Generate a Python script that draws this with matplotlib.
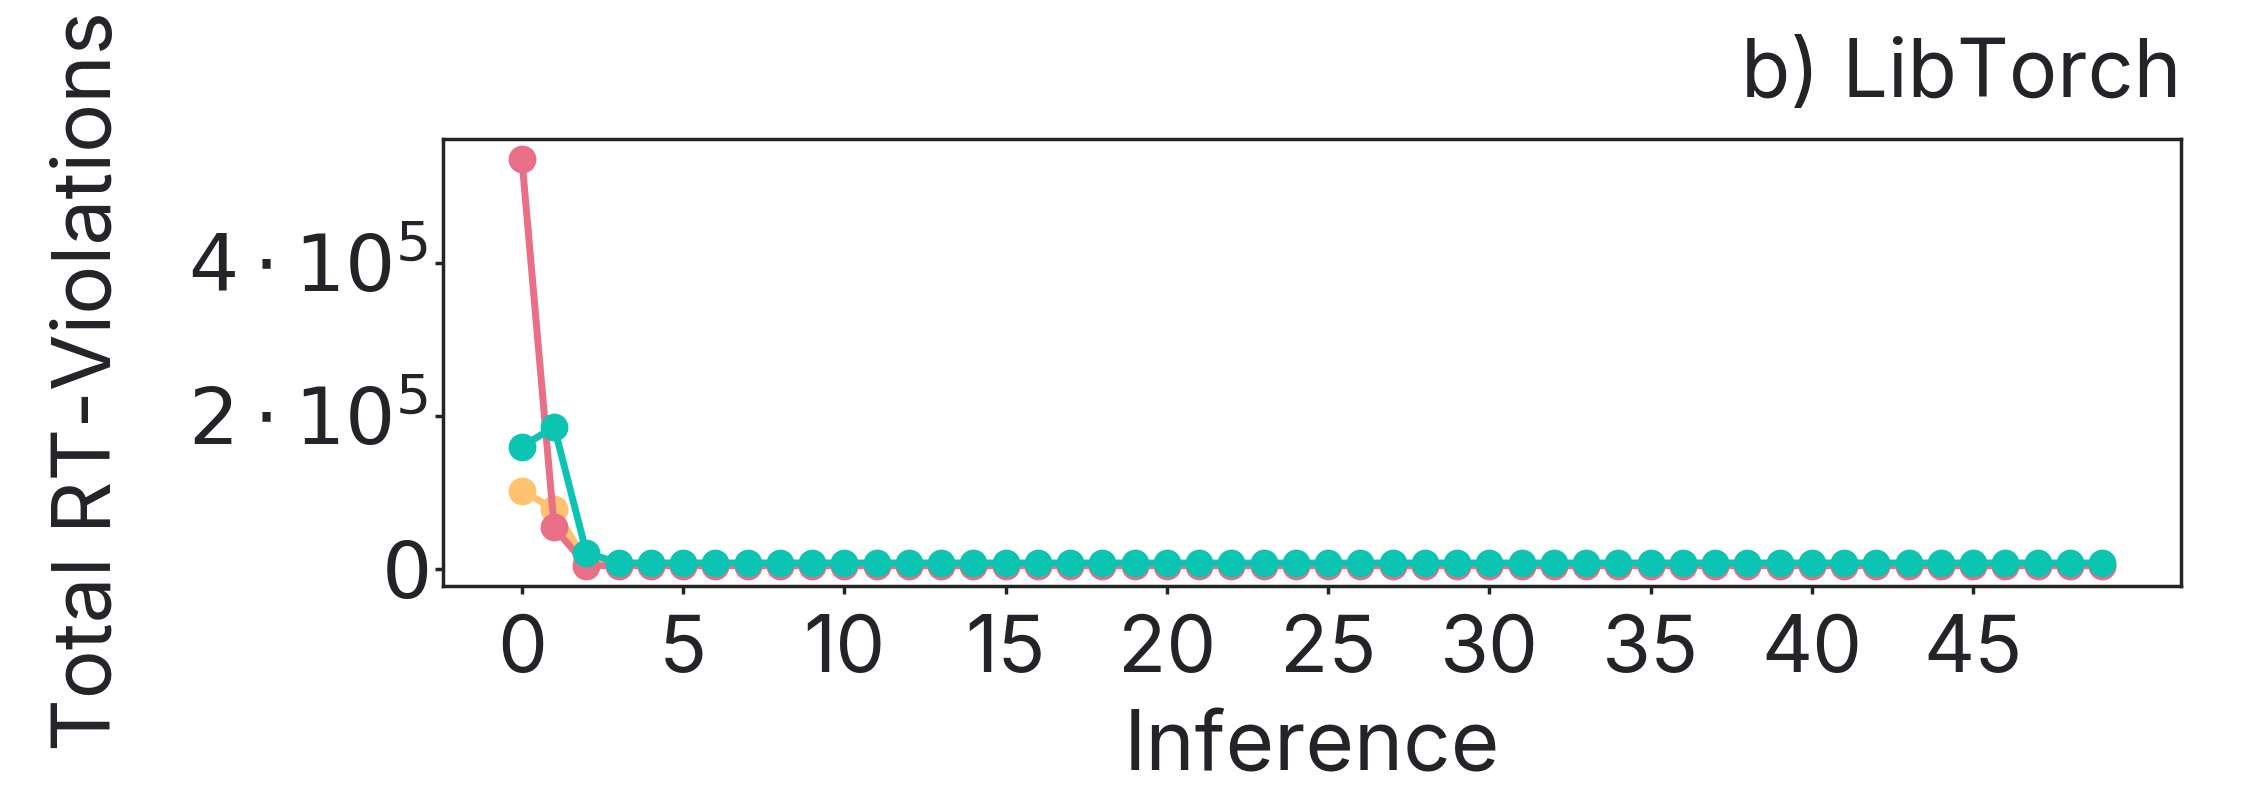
import numpy as np
import matplotlib
matplotlib.use("Agg")
import matplotlib.pyplot as plt
from matplotlib.ticker import FixedLocator, FixedFormatter

# total RT-violations per inference, LibTorch
inference = list(range(50))

red = [535000, 54000, 4000,
       4000, 4000, 4000, 4000, 4000, 4000, 4000, 4000, 4000, 4000,
       4000, 4000, 4000, 4000, 4000, 4000, 4000, 4000, 4000, 4000,
       4000, 4000, 4000, 4000, 4000, 4000, 4000, 4000, 4000, 4000,
       4000, 4000, 4000, 4000, 4000, 4000, 4000, 4000, 4000, 4000,
       4000, 4000, 4000, 4000, 4000, 4000, 4000]
yellow = [102000, 78000, 9000,
          5500, 5500, 5500, 5500, 5500, 5500, 5500, 5500, 5500, 5500,
          5500, 5500, 5500, 5500, 5500, 5500, 5500, 5500, 5500, 5500,
          5500, 5500, 5500, 5500, 5500, 5500, 5500, 5500, 5500, 5500,
          5500, 5500, 5500, 5500, 5500, 5500, 5500, 5500, 5500, 5500,
          5500, 5500, 5500, 5500, 5500, 5500, 5500]
teal = [159500, 185500, 21000,
        7500, 7500, 7500, 7500, 7500, 7500, 7500, 7500, 7500, 7500,
        7500, 7500, 7500, 7500, 7500, 7500, 7500, 7500, 7500, 7500,
        7500, 7500, 7500, 7500, 7500, 7500, 7500, 7500, 7500, 7500,
        7500, 7500, 7500, 7500, 7500, 7500, 7500, 7500, 7500, 7500,
        7500, 7500, 7500, 7500, 7500, 7500, 7500]

ytick_vals = [0, 200000, 400000]
ytick_labels = [r"$0$", r"$2\cdot10^{5}$", r"$4\cdot10^{5}$"]
xtick_vals = [0, 5, 10, 15, 20, 25, 30, 35, 40, 45]

txt = "#222428"
plt.rcParams['font.family'] = ['Inter', 'DejaVu Sans']
plt.rcParams['text.color'] = txt
plt.rcParams['axes.labelcolor'] = txt
plt.rcParams['xtick.color'] = txt
plt.rcParams['ytick.color'] = txt

fig = plt.figure(figsize=(22.45, 7.87), dpi=100)
ax = fig.add_axes([0.1973, 0.2554, 0.7742, 0.568])

ax.plot(inference, yellow, '-o', color="#FFC26F", lw=5, ms=19)
ax.plot(inference, red, '-o', color="#E86F86", lw=5, ms=19)
ax.plot(inference, teal, '-o', color="#0CC4B2", lw=5, ms=19)

ax.yaxis.set_major_locator(FixedLocator(ytick_vals))
ax.yaxis.set_major_formatter(FixedFormatter(ytick_labels))
ax.set_xticks(xtick_vals)
ax.tick_params(labelsize=57, length=6, width=2.5)
ax.tick_params(axis='x', pad=14)
ax.tick_params(axis='y', pad=5)
for s in ax.spines.values():
    s.set_linewidth(2.5)
    s.set_color(txt)

ax.set_xlabel("Inference", fontsize=60)
ax.xaxis.set_label_coords(0.5, -0.277)
ax.set_ylabel("Total RT-Violations", fontsize=59)
ax.yaxis.set_label_coords(-0.181, 0.459)
ax.set_title("b) LibTorch", fontsize=58, loc='right', pad=30)

fig.savefig("out.png", dpi=100)
